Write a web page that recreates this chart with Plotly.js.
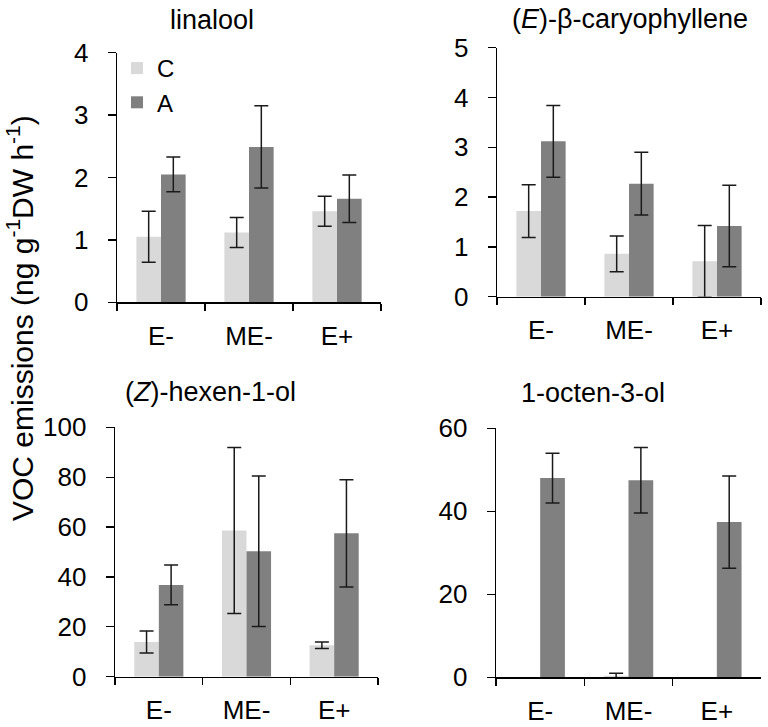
<!DOCTYPE html>
<html>
<head>
<meta charset="utf-8">
<script src="https://cdn.plot.ly/plotly-3.0.1.min.js"></script>
<style>
html,body{margin:0;padding:0;background:#fff;}
#chart{width:768px;height:727px;}
</style>
</head>
<body>
<div id="chart"></div>
<script>
// ---- data ----
const categories = ["E-", "ME-", "E+"];
const seriesNames = ["C", "A"];

const linaloolC = [1.05, 1.12, 1.46];
const linaloolCErr = [0.41, 0.24, 0.24];
const linaloolA = [2.05, 2.49, 1.66];
const linaloolAErr = [0.28, 0.66, 0.38];

const caryoC = [1.72, 0.86, 0.71];
const caryoCErr = [0.53, 0.36, 0.72];
const caryoA = [3.12, 2.27, 1.42];
const caryoAErr = [0.72, 0.63, 0.82];

const hexenolC = [13.9, 58.6, 12.6];
const hexenolCErr = [4.4, 33.3, 1.3];
const hexenolA = [36.8, 50.3, 57.5];
const hexenolAErr = [8.0, 30.2, 21.5];

const octenolC = [null, 0.35, null];
const octenolCErr = [null, 0.6, null];
const octenolA = [48.0, 47.5, 37.4];
const octenolAErr = [6.0, 7.9, 11.1];

const panelTitles = ["linalool", "(<i>E</i>)-β-caryophyllene", "(<i>Z</i>)-hexen-1-ol", "1-octen-3-ol"];
const yTitle = "VOC emissions (ng g<sup>-1</sup>DW h<sup>-1</sup>)";

// ---- styling ----
const colC = "#d9d9d9";
const colA = "#808080";
const FONT = "Liberation Sans, Arial, sans-serif";
const W = 768, H = 727;

function bar(name, y, err, xa, ya, color, show) {
  return {
    type: "bar", name: name, x: categories, y: y,
    xaxis: xa, yaxis: ya,
    marker: {color: color, line: {width: 0}},
    error_y: {type: "data", array: err, visible: true, color: "#1a1a1a", thickness: 1.5, width: 7},
    showlegend: show, legendgroup: name, hoverinfo: "skip"
  };
}

const data = [
  bar(seriesNames[0], linaloolC, linaloolCErr, "x", "y", colC, true),
  bar(seriesNames[1], linaloolA, linaloolAErr, "x", "y", colA, true),
  bar(seriesNames[0], caryoC, caryoCErr, "x2", "y2", colC, false),
  bar(seriesNames[1], caryoA, caryoAErr, "x2", "y2", colA, false),
  bar(seriesNames[0], hexenolC, hexenolCErr, "x3", "y3", colC, false),
  bar(seriesNames[1], hexenolA, hexenolAErr, "x3", "y3", colA, false),
  bar(seriesNames[0], octenolC, octenolCErr, "x4", "y4", colC, false),
  bar(seriesNames[1], octenolA, octenolAErr, "x4", "y4", colA, false)
];

function px(a) { return a / W; }
function py(b) { return 1 - b / H; }

function xax(l, r, anchor) {
  return {
    domain: [px(l), px(r)], anchor: anchor, type: "category",
    showline: true, linecolor: "#000", linewidth: 1.3,
    ticks: "outside", tickson: "boundaries", ticklen: 7, tickcolor: "#000", tickwidth: 1.3,
    ticklabelstandoff: 10,
    showgrid: false, zeroline: false,
    tickfont: {family: FONT, size: 26, color: "#000"}, fixedrange: true
  };
}
function yax(top, bot, anchor, max, dt) {
  return {
    domain: [py(bot), py(top)], anchor: anchor, range: [0, max], dtick: dt, tick0: 0,
    showline: true, linecolor: "#000", linewidth: 1.3,
    ticks: "outside", ticklen: 8, tickcolor: "#000", tickwidth: 1.3,
    ticklabelstandoff: 14,
    showgrid: false, zeroline: false,
    tickfont: {family: FONT, size: 26, color: "#000"}, fixedrange: true
  };
}

function ann(text, x, y, extra) {
  return Object.assign({
    text: text, xref: "paper", yref: "paper", x: px(x), y: py(y),
    xanchor: "center", yanchor: "middle", showarrow: false,
    font: {family: FONT, size: 27, color: "#000"}
  }, extra || {});
}

const layout = {
  width: W, height: H,
  margin: {l: 0, r: 0, t: 0, b: 0},
  paper_bgcolor: "#fff", plot_bgcolor: "#fff",
  barmode: "group", bargap: 0.44, bargroupgap: 0,
  showlegend: true,
  legend: {
    x: px(117), y: py(46), xanchor: "left", yanchor: "top",
    bgcolor: "rgba(0,0,0,0)", font: {family: FONT, size: 24, color: "#000"},
    itemwidth: 30, tracegroupgap: 0
  },
  xaxis: xax(117, 381, "y"),
  yaxis: yax(52.7, 302.3, "x", 4, 1),
  xaxis2: xax(497, 761, "y2"),
  yaxis2: yax(47.7, 296.7, "x2", 5, 1),
  xaxis3: xax(115, 378, "y3"),
  yaxis3: yax(427.3, 676.7, "x3", 100, 20),
  xaxis4: xax(496, 761, "y4"),
  yaxis4: yax(428.3, 677.3, "x4", 60, 20),
  annotations: [
    ann(panelTitles[0], 212, 20),
    ann(panelTitles[1], 630, 19),
    ann(panelTitles[2], 210, 392),
    ann(panelTitles[3], 593, 393),
    ann(yTitle, 20, 318, {textangle: -90, font: {family: FONT, size: 30, color: "#000"}})
  ]
};

Plotly.newPlot("chart", data, layout, {staticPlot: true, displayModeBar: false});
</script>
</body>
</html>
